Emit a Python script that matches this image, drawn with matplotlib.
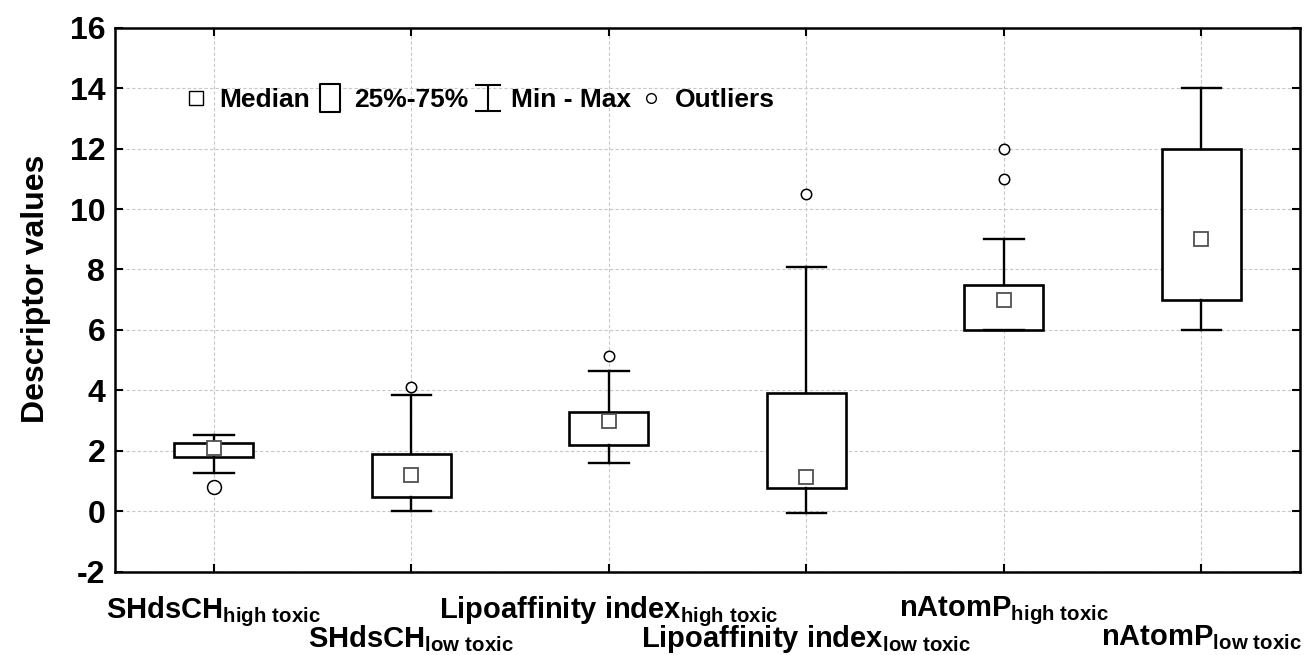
import matplotlib
matplotlib.use("Agg")
import matplotlib.pyplot as plt
from matplotlib.lines import Line2D
from matplotlib.path import Path
import numpy as np

plt.rcParams['font.family'] = ['Liberation Sans', 'DejaVu Sans']
plt.rcParams['font.weight'] = 'bold'
plt.rcParams['mathtext.fontset'] = 'custom'
plt.rcParams['mathtext.rm'] = 'Liberation Sans:bold'
plt.rcParams['mathtext.it'] = 'Liberation Sans:bold'
plt.rcParams['mathtext.bf'] = 'Liberation Sans:bold'
plt.rcParams['axes.unicode_minus'] = False

# data
labels = [r'SHdsCH$_{\rm high\ toxic}$', r'SHdsCH$_{\rm low\ toxic}$',
          r'Lipoaffinity index$_{\rm high\ toxic}$', r'Lipoaffinity index$_{\rm low\ toxic}$',
          r'nAtomP$_{\rm high\ toxic}$', r'nAtomP$_{\rm low\ toxic}$']
medians = [2.1, 1.2, 2.97, 1.13, 7.0, 9.0]
q1 = [1.78, 0.48, 2.18, 0.77, 6.0, 7.0]
q3 = [2.27, 1.9, 3.28, 3.9, 7.5, 12.0]
mins = [1.27, 0.0, 1.6, -0.05, 6.0, 6.0]
maxs = [2.53, 3.86, 4.63, 8.07, 9.0, 14.0]
outliers = [[0.8], [4.1], [5.15], [10.5], [11.0, 12.0], []]
yticks = [-2, 0, 2, 4, 6, 8, 10, 12, 14, 16]

stats = []
for i in range(len(labels)):
    stats.append(dict(med=medians[i], q1=q1[i], q3=q3[i], whislo=mins[i],
                      whishi=maxs[i], mean=medians[i], fliers=[]))

fig = plt.figure(figsize=(13.06, 6.55), dpi=100)
ax = fig.add_axes([115 / 1306, 1 - 571.7 / 655, 1185 / 1306, 544 / 655])

pos = np.arange(1, len(labels) + 1)
ax.bxp(stats, positions=pos, widths=0.4, capwidths=0.2, patch_artist=True,
       showmeans=True, meanline=False, showfliers=False,
       boxprops=dict(facecolor='white', edgecolor='black', linewidth=1.9),
       whiskerprops=dict(color='black', linewidth=1.7),
       capprops=dict(color='black', linewidth=1.7),
       medianprops=dict(linewidth=0),
       meanprops=dict(marker='s', markerfacecolor='white', markeredgecolor='#505050',
                      markersize=10.5, markeredgewidth=1.3),
       zorder=3)

for i, outs in enumerate(outliers):
    if outs:
        ax.plot([pos[i]] * len(outs), outs, ls='none', marker='o',
                mfc='white', mec='black', mew=1.1, ms=10 if i == 0 else 7.5, zorder=4)

ax.set_xlim(0.5, 6.5)
ax.set_ylim(-2, 16)
ax.set_yticks(yticks)
ax.set_yticklabels([str(t) for t in yticks])
ax.set_xticks(pos)
ax.set_xticklabels(labels, fontsize=21, fontweight='bold')
for i, t in enumerate(ax.xaxis.get_major_ticks()):
    t.set_pad(16 if i % 2 == 0 else 37)

ax.tick_params(direction='in', length=6, width=1.5, top=True, right=True)
ax.tick_params(axis='y', labelsize=23, pad=7)
ax.grid(True, color='#c8c8c8', linestyle=(0, (3, 2)), linewidth=0.8, zorder=0)
ax.set_axisbelow(True)
for s in ax.spines.values():
    s.set_linewidth(1.8)

ax.set_ylabel('Descriptor values', fontsize=23, fontweight='bold')
ax.yaxis.set_label_coords(-0.054, 0.52)

# legend
rect = Path([(-0.35, -0.5), (0.35, -0.5), (0.35, 0.5), (-0.35, 0.5), (-0.35, -0.5)],
            [Path.MOVETO, Path.LINETO, Path.LINETO, Path.LINETO, Path.CLOSEPOLY])
ibeam = Path([(-0.5, 0.5), (0.5, 0.5), (0, 0.5), (0, -0.5), (-0.5, -0.5), (0.5, -0.5)],
             [Path.MOVETO, Path.LINETO, Path.MOVETO, Path.LINETO, Path.MOVETO, Path.LINETO])
handles = [
    Line2D([], [], ls='none', marker='s', mfc='white', mec='black', mew=1, ms=10),
    Line2D([], [], ls='none', marker=rect, mfc='white', mec='black', mew=1.5, ms=20),
    Line2D([], [], ls='none', marker=ibeam, mfc='none', mec='black', mew=1.5, ms=19),
    Line2D([], [], ls='none', marker='o', mfc='white', mec='black', mew=1, ms=7),
]
ax.legend(handles, ['Median', '25%-75%', 'Min - Max', 'Outliers'], ncol=4,
          loc='center left', bbox_to_anchor=(0.058, 0.867), frameon=False,
          prop=dict(size=19, weight='bold'), handlelength=0.9, handletextpad=0.45,
          columnspacing=0.3, borderpad=0, borderaxespad=0)

fig.savefig('out.png', dpi=100)
